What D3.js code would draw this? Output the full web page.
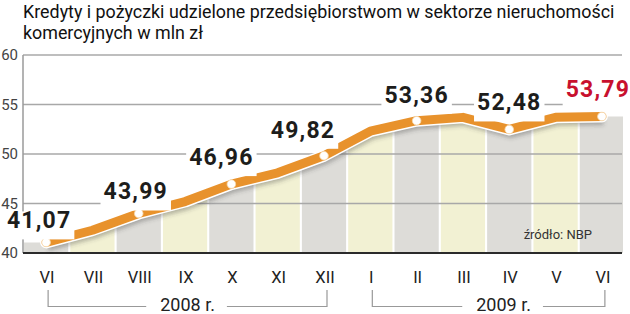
<!DOCTYPE html>
<html>
<head>
<meta charset="utf-8">
<script src="https://cdn.jsdelivr.net/npm/d3@7/dist/d3.min.js"></script>
<style>
  html, body { margin: 0; padding: 0; background: #fff; }
  svg { display: block; }
  text { font-family: Roboto, "Noto Sans", sans-serif; }
</style>
</head>
<body>
<svg id="chart" width="630" height="314"></svg>
<script>
// ---- data ----
const titleLines = ["Kredyty i pożyczki udzielone przedsiębiorstwom w sektorze nieruchomości", "komercyjnych w mln zł"];
const months = ["VI", "VII", "VIII", "IX", "X", "XI", "XII", "I", "II", "III", "IV", "V", "VI"];
const values = [41.07, 42.3, 43.99, 45.2, 46.96, 48.1, 49.82, 52.3, 53.36, 53.7, 52.48, 53.7, 53.79];
const labeledIdx = [0, 2, 4, 6, 8, 10, 12];
const valueLabels = ["41,07", "43,99", "46,96", "49,82", "53,36", "52,48", "53,79"];
const yTicks = [40, 45, 50, 55, 60];
const years = ["2008 r.", "2009 r."];
const yearStart = [0, 7];
const yearEnd = [6, 12];
const sourceText = "źródło: NBP";

// ---- layout / style ----
const labelDx = [-7, -3, -10, -21, 0, 0, -4];
const labelDy = [-14, -14, -19, -18, -18, -19, -19];
const yearDx = [0, 15];
const colGray = "#dddcd8", colYellow = "#f2f1d3";
const orange = "#e8922c";

const svg = d3.select("#chart");
const mLeft = 23, mRight = 623, mTop = 55, mBottom = 253;

const x = d3.scaleBand().domain(d3.range(months.length)).range([mLeft + 1, mRight + 1]).paddingInner(0.045).paddingOuter(0);
const cx = i => x(i) + x.bandwidth() / 2;
const y = d3.scaleLinear().domain([40, 60]).range([mBottom, mTop]);

// title
const title = svg.append("g").attr("fill", "#111");
title.selectAll("text").data(titleLines).join("text")
  .attr("x", mLeft).attr("y", (d, i) => 18 + i * 21)
  .attr("font-size", 17.5).text(d => d);
(function () {
  const t = title.select("text").node();
  const w = t.getComputedTextLength();
  const fs = Math.max(15, Math.min(19, 17.5 * 592 / w));
  title.selectAll("text").attr("font-size", fs);
})();

// area clip
const pts = [[x.range()[0], values[0]]].concat(values.map((v, i) => [cx(i), v])).concat([[x.range()[1] - 1, values[values.length - 1]]]);
const area = d3.area().x(d => d[0]).y0(y(40)).y1(d => y(d[1]));
const line = d3.line().x(d => cx(d[0])).y(d => y(d[1]));

const defs = svg.append("defs");
defs.append("clipPath").attr("id", "areaClip").append("path").attr("d", area(pts));
const f = defs.append("filter").attr("id", "blur").attr("x", "-10%").attr("y", "-50%").attr("width", "120%").attr("height", "200%");
f.append("feGaussianBlur").attr("stdDeviation", 2.2);

// columns
svg.append("g").attr("clip-path", "url(#areaClip)")
  .selectAll("rect").data(values).join("rect")
  .attr("x", (d, i) => x(i)).attr("width", x.bandwidth())
  .attr("y", mTop).attr("height", mBottom - mTop)
  .attr("fill", (d, i) => i % 2 === 0 ? colGray : colYellow);

// gridlines
svg.append("g").selectAll("line").data(yTicks.filter(t => t > 40)).join("line")
  .attr("x1", mLeft).attr("x2", mRight - 1)
  .attr("y1", d => y(d)).attr("y2", d => y(d))
  .attr("stroke", "#a8a8a8").attr("stroke-width", 1.3);

// y axis labels
svg.append("g").selectAll("text").data(yTicks).join("text")
  .attr("x", 18).attr("y", d => y(d)).attr("dy", "0.36em")
  .attr("text-anchor", "end").attr("font-size", 15).attr("fill", "#444")
  .text(d => d);

// left axis
svg.append("line").attr("x1", mLeft).attr("x2", mLeft).attr("y1", y(60)).attr("y2", y(40))
  .attr("stroke", "#9a9a9a").attr("stroke-width", 1.5);
// bottom axis
svg.append("line").attr("x1", mLeft).attr("x2", mRight - 1).attr("y1", y(40)).attr("y2", y(40))
  .attr("stroke", "#2b2b2b").attr("stroke-width", 2);

// source
svg.append("text").attr("x", 592).attr("y", 239).attr("text-anchor", "end")
  .attr("font-size", 13).attr("fill", "#333").text(sourceText);

// line shadow, outline, line
const lineData = values.map((v, i) => [i, v]);
svg.append("path").attr("d", line(lineData)).attr("fill", "none")
  .attr("stroke", "rgba(60,60,60,0.35)").attr("stroke-width", 9)
  .attr("stroke-linejoin", "round").attr("transform", "translate(1.5,4)")
  .attr("filter", "url(#blur)");
svg.append("path").attr("d", line(lineData)).attr("fill", "none")
  .attr("stroke", "#fff").attr("stroke-width", 12)
  .attr("stroke-linejoin", "round").attr("stroke-linecap", "round");
svg.append("path").attr("d", line(lineData)).attr("fill", "none")
  .attr("stroke", orange).attr("stroke-width", 9)
  .attr("stroke-linejoin", "round").attr("stroke-linecap", "round");

// dots
svg.append("g").selectAll("circle").data(labeledIdx).join("circle")
  .attr("cx", i => cx(i)).attr("cy", i => y(values[i])).attr("r", 4.3)
  .attr("fill", "#fff").attr("stroke", "#f6d8ac").attr("stroke-width", 0.8);

// value labels with white background
const lg = svg.append("g");
labeledIdx.forEach((idx, k) => {
  const g = lg.append("g");
  const t = g.append("text")
    .attr("x", cx(idx) + labelDx[k]).attr("y", y(values[idx]) + labelDy[k])
    .attr("text-anchor", "middle").attr("font-size", 23).attr("font-weight", 700)
    .attr("letter-spacing", 1.2)
    .attr("fill", k === labeledIdx.length - 1 ? "#c8102e" : "#1d1d1b")
    .text(valueLabels[k]);
  const bb = t.node().getBBox();
  g.insert("rect", "text").attr("x", bb.x - 3).attr("y", bb.y + 4)
    .attr("width", bb.width + 6).attr("height", bb.height + 1).attr("fill", "#fff");
});

// month labels
svg.append("g").selectAll("text").data(months).join("text")
  .attr("x", (d, i) => cx(i) + 1).attr("y", 283)
  .attr("text-anchor", "middle").attr("font-size", 16.5).attr("fill", "#222")
  .text(d => d);

// year brackets
const yg = svg.append("g");
years.forEach((yr, k) => {
  const x0 = cx(yearStart[k]) + 2, x1 = cx(yearEnd[k]) + 3;
  const tx = (x0 + x1) / 2 + yearDx[k];
  const t = yg.append("text").attr("x", tx).attr("y", 311).attr("text-anchor", "middle")
    .attr("font-size", 18).attr("fill", "#222").text(yr);
  const w = t.node().getComputedTextLength();
  yg.append("path")
    .attr("d", `M${x0},290V306.5H${tx - w / 2 - 14}M${tx + w / 2 + 12},306.5H${x1}V290`)
    .attr("fill", "none").attr("stroke", "#999").attr("stroke-width", 1.2);
});
</script>
</body>
</html>
